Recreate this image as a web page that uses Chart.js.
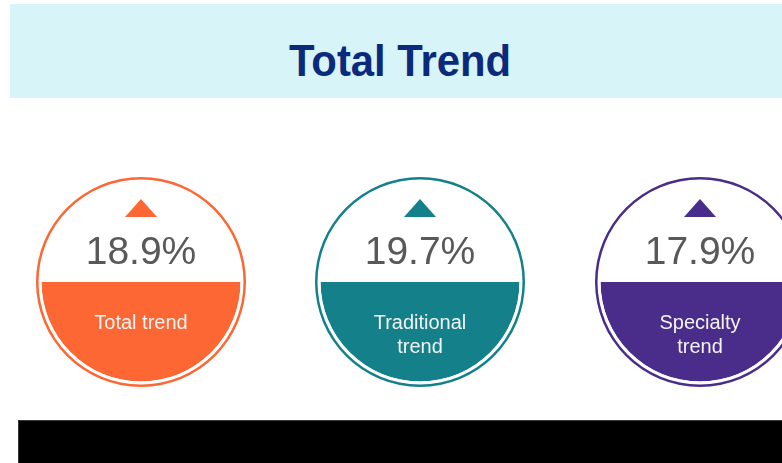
<!DOCTYPE html>
<html><head><meta charset="utf-8">
<script src="https://cdn.jsdelivr.net/npm/chart.js@4/dist/chart.umd.min.js"></script>
<style>
html,body{margin:0;padding:0;width:782px;height:463px;overflow:hidden;background:#fff;font-family:"Liberation Sans",Arial,sans-serif}
body{position:relative}
#titlebar{position:absolute;left:10px;top:4px;width:772px;height:94px;background:#d7f4f9}
#title{position:absolute;left:400px;top:39px;font-size:44px;line-height:44px;font-weight:bold;color:#0b2a7c;white-space:nowrap;transform:translateX(-50%) scaleX(0.95)}
canvas{position:absolute}
.tri{position:absolute;width:0;height:0;border-left:16px solid transparent;border-right:16px solid transparent;border-bottom-width:18px;border-bottom-style:solid}
.pct{position:absolute;width:200px;text-align:center;font-size:39px;line-height:39px;color:#595959;white-space:nowrap}
.lbl{position:absolute;width:200px;text-align:center;font-size:20px;line-height:24px;color:#f4f4f4;white-space:nowrap}
#blackbar{position:absolute;left:18px;top:420px;width:764px;height:43px;background:#000;box-sizing:border-box;border:1px solid #3a3a3a;border-right:none;border-bottom:none}
</style>
</head><body>
<div id="titlebar"></div>
<div id="title">Total Trend</div>
<div id="blackbar"></div>
<script>
// Data
const categories = ["Total trend", "Traditional trend", "Specialty trend"];
const labelLines = [["Total trend"], ["Traditional", "trend"], ["Specialty", "trend"]];
const trendValues = [18.9, 19.7, 17.9];
const halves = [1, 1];

// Styles / layout
const colors = ["#fd6733", "#14808a", "#4a2d8b"];
const centersX = [141, 420, 700];
const centerY = 282;
const R = 105;

categories.forEach((cat, i) => {
  const cx = centersX[i], c = colors[i];
  const cv = document.createElement('canvas');
  cv.width = 2 * R; cv.height = 2 * R;
  cv.style.left = (cx - R) + 'px';
  cv.style.top = (centerY - R) + 'px';
  cv.style.width = 2 * R + 'px';
  cv.style.height = 2 * R + 'px';
  document.body.appendChild(cv);
  new Chart(cv, {
    type: 'doughnut',
    data: {
      labels: ['top', cat],
      datasets: [
        { data: [1], backgroundColor: [c], weight: 2.5, borderWidth: 0 },
        { data: [1], backgroundColor: ['#ffffff'], weight: 3, borderWidth: 0 },
        { data: halves, backgroundColor: ['#ffffff', c], weight: 99.5, borderWidth: 0 }
      ]
    },
    options: {
      responsive: false, animation: false, cutout: 0, rotation: -90,
      devicePixelRatio: 1, events: [],
      layout: { padding: 0 },
      plugins: { legend: { display: false }, tooltip: { enabled: false } }
    }
  });

  const tri = document.createElement('div');
  tri.className = 'tri';
  tri.style.left = (cx - 16) + 'px';
  tri.style.top = '199px';
  tri.style.borderBottomColor = c;
  document.body.appendChild(tri);

  const pct = document.createElement('div');
  pct.className = 'pct';
  pct.style.left = (cx - 100) + 'px';
  pct.style.top = '231px';
  pct.textContent = trendValues[i].toFixed(1) + '%';
  document.body.appendChild(pct);

  const lbl = document.createElement('div');
  lbl.className = 'lbl';
  lbl.style.left = (cx - 100) + 'px';
  lbl.style.top = '310px';
  lbl.innerHTML = labelLines[i].join('<br>');
  document.body.appendChild(lbl);
});
</script>
</body></html>
